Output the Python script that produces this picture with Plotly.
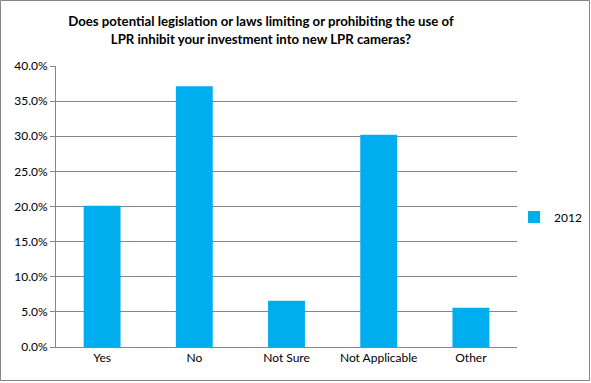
import plotly.graph_objects as go

categories = ["Yes", "No", "Not Sure", "Not Applicable", "Other"]
values_2012 = [0.201, 0.371, 0.066, 0.302, 0.056]
series_name = "2012"
title_lines = ["Does potential legislation or laws limiting or prohibiting the use of",
               "LPR inhibit your investment into new LPR cameras?"]

fig = go.Figure()
fig.add_trace(go.Bar(x=categories, y=values_2012, name=series_name,
                     marker=dict(color="#00AEEF", line=dict(width=0))))

font_family = "Lato, 'Open Sans', sans-serif"
PW, PH = 461, 281
fig.update_layout(
    width=591, height=383,
    margin=dict(l=56, r=74, t=66, b=36, autoexpand=False),
    paper_bgcolor="white", plot_bgcolor="white",
    font=dict(family=font_family, size=12, color="black"),
    title=dict(text="<b>" + "<br>".join(title_lines) + "</b>",
               xref="paper", x=(261 - 56) / PW, xanchor="center", y=0.931, yanchor="top",
               font=dict(size=13.2, family=font_family, color="black")),
    bargap=0.6,
    showlegend=True,
    legend=dict(x=(514 - 56) / PW, xanchor="left", y=(347 - 217) / PH, yanchor="middle",
                font=dict(size=12), itemwidth=30, bgcolor="rgba(0,0,0,0)"),
    shapes=[dict(type="rect", xref="paper", yref="paper",
                 x0=-55.5 / PW, x1=(589.5 - 56) / PW, y0=-33.5 / PH, y1=1 + 65.5 / PH,
                 line=dict(color="#868686", width=1), fillcolor="rgba(0,0,0,0)", layer="below")],
)
fig.update_xaxes(showline=True, linecolor="#868686", linewidth=1, ticks="",
                 showgrid=False, tickfont=dict(size=12))
fig.update_yaxes(range=[0, 0.4], dtick=0.05, tickformat=".1%", showline=True,
                 linecolor="#868686", linewidth=1, ticks="outside", ticklen=5,
                 tickcolor="#868686", showgrid=True, gridcolor="#868686", gridwidth=1,
                 zeroline=False, tickfont=dict(size=12))
fig.write_html("out.html", config={"displayModeBar": False},
               post_script="document.body.style.margin='0';")
